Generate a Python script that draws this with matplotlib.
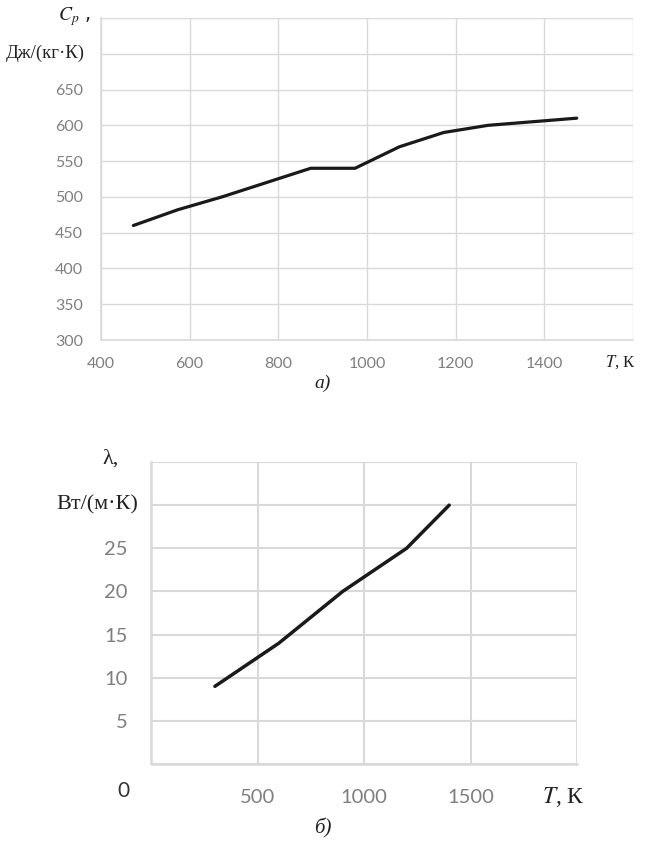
import matplotlib
matplotlib.use("Agg")
import matplotlib.pyplot as plt

# а) теплоёмкость
t_cp = [473, 573, 673, 773, 873, 973, 1073, 1173, 1273, 1373, 1473]
cp = [460, 482, 500, 520, 540, 540, 570, 590, 600, 605, 610]
cp_yticks = [300, 350, 400, 450, 500, 550, 600, 650, 700, 750]
cp_xticks = [400, 600, 800, 1000, 1200, 1400, 1600]

# б) теплопроводность
t_lam = [300, 600, 900, 1200, 1400]
lam = [9, 14, 20, 25, 30]
lam_yticks = [0, 5, 10, 15, 20, 25, 30, 35]
lam_xticks = [0, 500, 1000, 1500, 2000]

W, H = 645, 847
GRID = "#d9d9d9"
TICKC = "#7f7f7f"
LINEC = "#1a1a1a"
SANS = "Lato"
SERIF = "Liberation Serif"

fig = plt.figure(figsize=(W / 100, H / 100), dpi=100)

def box(l, t, r, b):
    return [l / W, 1 - b / H, (r - l) / W, (b - t) / H]

def style(ax, lw, size, xpad, ypad):
    for s in ax.spines.values():
        s.set_visible(False)
    ax.grid(True, color=GRID, lw=lw)
    ax.set_axisbelow(True)
    ax.tick_params(length=0, labelsize=size, labelcolor=TICKC, pad=xpad, axis="x")
    ax.tick_params(length=0, labelsize=size, labelcolor=TICKC, pad=ypad, axis="y")
    for lab in ax.get_xticklabels() + ax.get_yticklabels():
        lab.set_fontfamily(SANS)

# ---- верхний график
ax1 = fig.add_axes(box(101, 18, 633, 340))
ax1.plot(t_cp, cp, color=LINEC, lw=2.3, solid_capstyle="round")
ax1.set_xlim(400, 1600)
ax1.set_ylim(300, 750)
ax1.set_xticks(cp_xticks)
ax1.set_xticklabels([str(v) for v in cp_xticks[:-1]] + [""])
ax1.set_yticks(cp_yticks)
ax1.set_yticklabels([str(v) for v in cp_yticks[:-2]] + ["", ""])
style(ax1, 1.0, 11.5, 12, 13)
ax1.plot([400, 400, 1600], [750, 300, 300], color=GRID, lw=1.2, clip_on=False)
yt = ax1.get_yaxis_transform()
ax1.text(-0.104, 700, "Дж/(кг·К)", transform=yt, ha="center", va="center",
         family=SERIF, fontsize=13.5, color="#222222")
ax1.text(-0.05, 752, r"$C_p$ ,", transform=yt, ha="center", va="center",
         fontsize=14, color="#222222", math_fontfamily="stix")
fig.text(620 / W, 1 - 362 / H, r"$T$, К", ha="center", va="center",
         family=SERIF, fontsize=12, color="#222222", math_fontfamily="stix")
fig.text(323 / W, 1 - 383 / H, "а)", ha="center", va="center",
         family=SERIF, style="italic", fontsize=14, color="#222222")

# ---- нижний график
ax2 = fig.add_axes(box(151, 462, 577, 764))
ax2.plot(t_lam, lam, color=LINEC, lw=2.5, solid_capstyle="round")
ax2.set_xlim(0, 2000)
ax2.set_ylim(0, 35)
ax2.set_xticks(lam_xticks)
ax2.set_xticklabels([""] + [str(v) for v in lam_xticks[1:-1]] + [""])
ax2.set_yticks(lam_yticks)
ax2.set_yticklabels([""] + [str(v) for v in lam_yticks[1:-2]] + ["", ""])
style(ax2, 1.5, 14.5, 18, 17)
ax2.plot([0, 0, 2000], [35, 0, 0], color=GRID, lw=1.8, clip_on=False)
yt2 = ax2.get_yaxis_transform()
ax2.text(-0.127, 30, "Вт/(м·К)", transform=yt2, ha="center", va="center",
         family=SERIF, fontsize=16, color="#222222")
ax2.text(-0.095, 35.3, "λ,", transform=yt2, ha="center", va="center",
         family=SERIF, fontsize=16, color="#222222")
fig.text(123 / W, 1 - 791 / H, "0", ha="center", va="center",
         family=SANS, fontsize=15, color="#333333")
fig.text(563 / W, 1 - 797 / H, r"$T$, К", ha="center", va="center",
         family=SERIF, fontsize=17, color="#222222", math_fontfamily="stix")
fig.text(323 / W, 1 - 828 / H, "б)", ha="center", va="center",
         family=SERIF, style="italic", fontsize=15, color="#222222")

fig.savefig("out.png", dpi=100)
